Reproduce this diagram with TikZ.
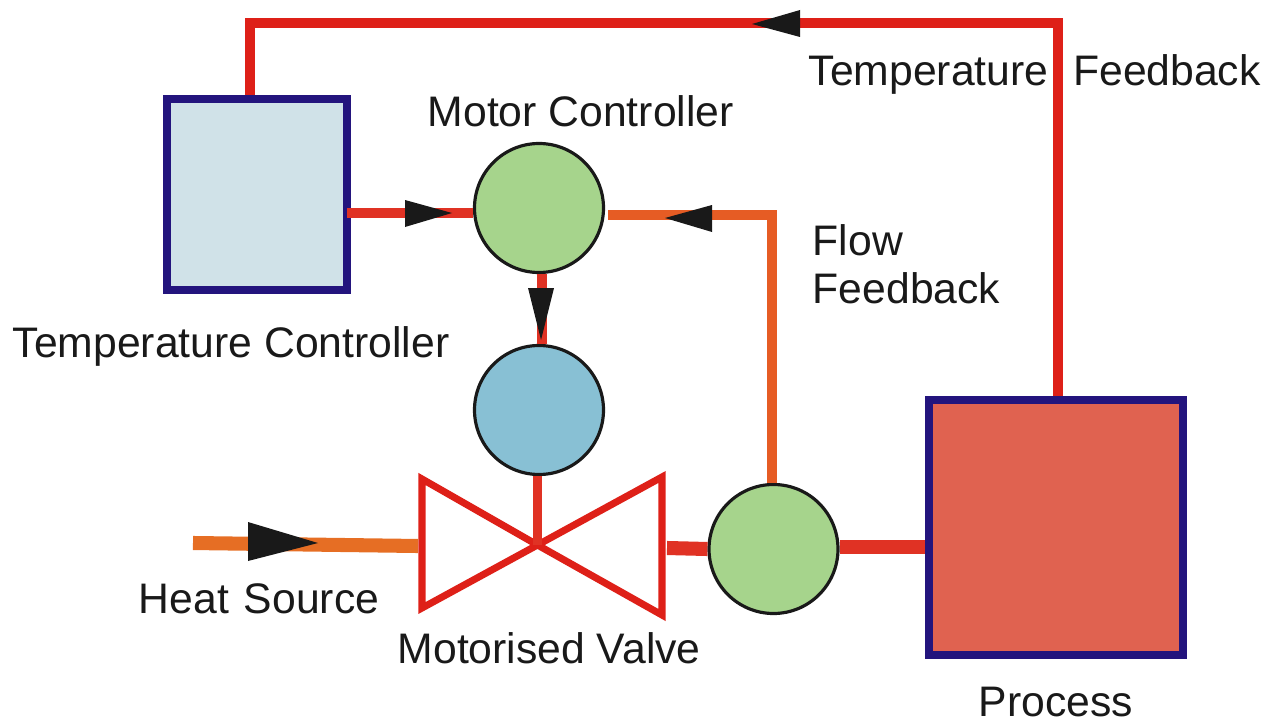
\documentclass[tikz,border=0pt]{standalone}
\usepackage{fontspec}
\setmainfont{Liberation Sans}
\definecolor{boxblue}{RGB}{35,20,125}
\definecolor{paleblue}{RGB}{208,226,232}
\definecolor{procred}{RGB}{224,98,80}
\definecolor{circgreen}{RGB}{166,212,140}
\definecolor{circblue}{RGB}{136,192,212}
\definecolor{linered}{RGB}{222,32,24}
\definecolor{pipered}{RGB}{224,50,36}
\definecolor{lineorange}{RGB}{230,92,36}
\definecolor{pipeorange}{RGB}{230,110,36}
\tikzset{
  tank/.style={draw=boxblue,line width=2.2pt,inner sep=0pt},
  disc/.style={circle,draw=black!90,line width=0.9pt,minimum size=1.29cm,inner sep=0pt},
  label/.style={font=\fontsize{12.15}{14}\selectfont,text=black!90,inner sep=0pt},
  redline/.style={draw=linered,line width=2.8pt},
  orangeline/.style={draw=lineorange,line width=2.8pt},
  pipeline/.style={line width=4pt},
  tip/.style={fill=black!90}
}
\begin{document}
\begin{tikzpicture}
\useasboundingbox (0,0) rectangle (12.7,7.21);

% boxes
\node[tank,minimum width=1.8cm,minimum height=1.91cm,fill=paleblue] (tempctrl) at (2.57,5.265) {};
\node[tank,minimum width=2.54cm,minimum height=2.55cm,fill=procred] (process) at (10.56,1.935) {};

% discs
\node[disc,fill=circgreen] (motorctrl) at (5.39,5.13) {};
\node[disc,fill=circblue] (motor) at (5.39,3.11) {};
\node[disc,fill=circgreen] (flowsens) at (7.735,1.72) {};

% valve
\coordinate (valvemid) at (5.375,1.76);
\coordinate (valveleft) at (4.18,1.75);
\coordinate (valveright) at (6.67,1.73);
\coordinate (source) at (1.93,1.78);
\draw[draw=linered,line width=2pt,line join=miter]
  (4.22,2.42) -- (valvemid) -- (6.62,1.06) -- (6.62,2.44) -- (valvemid) -- (4.22,1.13) -- cycle;

% pipes
\coordinate (fbcorner1) at (10.58,6.98);
\coordinate (fbcorner2) at (2.5,6.98);
\coordinate (flowcorner) at (7.72,5.06);
\coordinate (flowend) at (6.08,5.06);
\coordinate (tcstart) at (3.47,5.08);
\coordinate (mcdrop) at (5.42,5);
\coordinate (processin) at (9.3,1.74);
\draw[redline,line join=miter] (fbcorner1 |- process.north) -- (fbcorner1) -- (fbcorner2) -- (fbcorner2 |- tempctrl.north);
\draw[orangeline,line join=miter] (flowsens.north -| flowcorner) -- (flowcorner) -- (flowend);
\draw[redline,draw=pipered] (tcstart) -- (tcstart -| motorctrl.west);
\draw[redline,draw=pipered] (motorctrl.south -| mcdrop) -- (motor.north -| mcdrop);
\draw[redline,draw=pipered] (motor.south -| valvemid) -- (valvemid);
\draw[pipeline,draw=pipeorange] (source) -- (valveleft);
\draw[pipeline,draw=pipered] (valveright) -- (flowsens.west);
\draw[pipeline,draw=pipered] (flowsens.east |- processin) -- (process.west |- processin);

% arrow heads
\fill[tip] (8,7.11) -- (7.52,6.97) -- (8,6.84) -- cycle;
\fill[tip] (4.05,5.21) -- (4.52,5.08) -- (4.05,4.94) -- cycle;
\fill[tip] (7.12,5.16) -- (6.65,5.03) -- (7.12,4.89) -- cycle;
\fill[tip] (5.28,4.33) -- (5.41,3.81) -- (5.54,4.33) -- cycle;
\fill[tip] (2.48,1.99) -- (3.18,1.78) -- (2.48,1.6) -- cycle;

% labels
\node[label,anchor=west] at (8.08,6.47) {Temperature\hspace{0.58em}Feedback};
\node[label,anchor=west] at (4.27,6.10) {Motor Controller};
\node[label,anchor=west] at (8.12,4.81) {Flow};
\node[label,anchor=west] at (8.12,4.33) {Feedback};
\node[label,anchor=west] at (0.12,3.75) {Temperature Controller};
\node[label,anchor=west] at (1.38,1.22) {Heat\hspace{0.35em}Source};
\node[label,anchor=west] at (3.97,0.73) {Motorised Valve};
\node[label,anchor=west] at (9.78,0.19) {Process};
\end{tikzpicture}
\end{document}
